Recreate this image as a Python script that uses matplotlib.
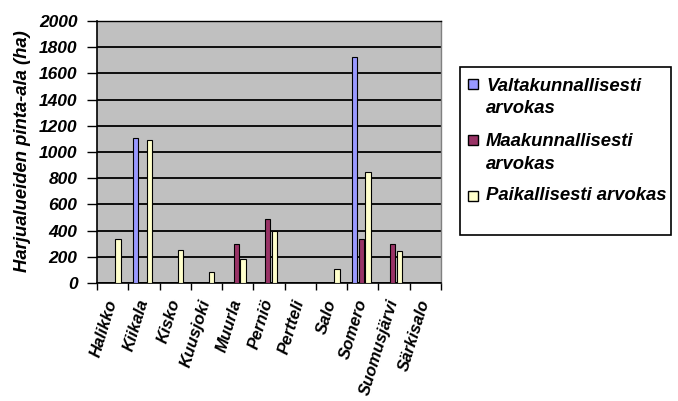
import matplotlib
matplotlib.use("Agg")
import matplotlib.pyplot as plt
from matplotlib.patches import Rectangle
import numpy as np

categories = ["Halikko", "Kiikala", "Kisko", "Kuusjoki", "Muurla", "Perniö",
              "Pertteli", "Salo", "Somero", "Suomusjärvi", "Särkisalo"]
valtakunnallisesti = [0, 1110, 0, 0, 0, 0, 0, 0, 1725, 0, 0]
maakunnallisesti = [0, 0, 0, 0, 300, 490, 0, 0, 335, 300, 0]
paikallisesti = [335, 1090, 255, 85, 185, 400, 0, 107, 848, 245, 0]
series_names = ["Valtakunnallisesti\narvokas", "Maakunnallisesti\narvokas",
                "Paikallisesti arvokas"]
yticks = [0, 200, 400, 600, 800, 1000, 1200, 1400, 1600, 1800, 2000]

colors = ["#9999FF", "#993366", "#FFFFCC"]
FONT = ["Liberation Sans", "DejaVu Sans"]

fig = plt.figure(figsize=(6.78, 4.01), dpi=100)
fig.patch.set_facecolor("white")
ax = fig.add_axes([97/678, 1-283/401, (441-97)/678, (283-21)/401])
ax.set_facecolor("#C0C0C0")

x = np.arange(len(categories))
offsets = [0.23, 0.45, 0.67]
w = 0.17
for vals, off, c in zip([valtakunnallisesti, maakunnallisesti, paikallisesti], offsets, colors):
    ax.bar(x + off, vals, width=w, color=c, edgecolor="black", linewidth=0.8, zorder=3)

ax.set_xlim(0, len(categories))
ax.set_ylim(0, 2000)
ax.set_yticks(yticks)
ax.set_yticklabels([str(v) for v in yticks], fontfamily=FONT, fontweight="bold",
                   fontstyle="italic", fontsize=12.5)
ax.yaxis.grid(True, color="black", linewidth=1.3, zorder=1)
ax.set_axisbelow(True)

ax.set_xticks(np.arange(len(categories) + 1))
ax.set_xticklabels([])
ax.set_xticks(x + 0.5, minor=True)
ax.set_xticklabels(categories, minor=True, rotation=73, ha="right", va="center",
                   rotation_mode="anchor", fontfamily=FONT, fontweight="bold",
                   fontstyle="italic", fontsize=12)
ax.tick_params(axis="x", which="major", direction="out", length=5, width=1, color="black")
ax.tick_params(axis="x", which="minor", length=0, pad=12)
ax.tick_params(axis="y", direction="out", length=7, width=1, pad=7)

for s in ["left", "bottom"]:
    ax.spines[s].set_color("black")
    ax.spines[s].set_linewidth(1.2)
ax.spines["top"].set_color("black")
ax.spines["top"].set_linewidth(1.0)
ax.spines["right"].set_color("#808080")
ax.spines["right"].set_linewidth(1.0)

fig.text(23/678, 1-151/401, "Harjualueiden pinta-ala (ha)", rotation=90,
         ha="center", va="center", fontfamily=FONT, fontweight="bold",
         fontstyle="italic", fontsize=13.3)

# legend
W, H = 678, 401
fig.add_artist(Rectangle((460/W, 1-235/H), (671-460)/W, (235-67)/H,
                         transform=fig.transFigure, facecolor="white",
                         edgecolor="black", linewidth=1.2))
sq_y = [84, 140, 196]
txt_y = [97.5, 153, 196]
for name, c, sy, ty in zip(series_names, colors, sq_y, txt_y):
    fig.add_artist(Rectangle((468/W, 1-(sy+5)/H), 10/W, 10/H,
                             transform=fig.transFigure, facecolor=c,
                             edgecolor="black", linewidth=1.0))
    fig.text(486/W, 1-ty/H, name, ha="left", va="center", fontfamily=FONT,
             fontweight="bold", fontstyle="italic", fontsize=13.3, linespacing=1.4)

fig.savefig("out.png", dpi=100)
